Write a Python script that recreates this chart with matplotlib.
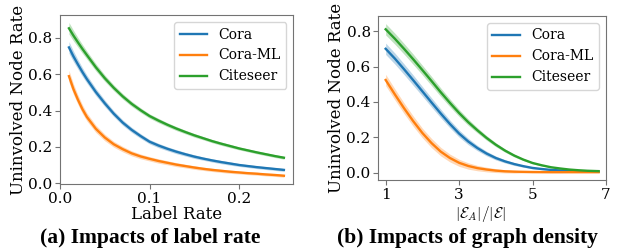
import numpy as np
import matplotlib.pyplot as plt

plt.rcParams.update({'font.family': 'DejaVu Serif', 'font.size': 11,
                     'mathtext.fontset': 'cm'})

names = ['Cora', 'Cora-ML', 'Citeseer']
colors = ['#1f77b4', '#ff7f0e', '#2ca02c']

# (a) label rate
label_rate = [0.01, 0.015, 0.02, 0.025, 0.03, 0.04, 0.05, 0.06, 0.07, 0.08, 0.09,
              0.10, 0.11, 0.12, 0.13, 0.14, 0.15, 0.16, 0.17, 0.18, 0.19,
              0.20, 0.21, 0.22, 0.23, 0.24, 0.25]
cora_a = [0.747, 0.698, 0.654, 0.612, 0.573, 0.502, 0.440, 0.383, 0.334, 0.294, 0.260,
          0.229, 0.208, 0.190, 0.174, 0.160, 0.147, 0.136, 0.126, 0.117, 0.109,
          0.101, 0.095, 0.089, 0.084, 0.079, 0.074]
coraml_a = [0.589, 0.518, 0.460, 0.408, 0.365, 0.300, 0.252, 0.215, 0.188, 0.165, 0.148,
            0.135, 0.123, 0.113, 0.103, 0.095, 0.087, 0.080, 0.074, 0.069, 0.064,
            0.060, 0.056, 0.053, 0.049, 0.046, 0.042]
citeseer_a = [0.852, 0.812, 0.775, 0.739, 0.705, 0.638, 0.578, 0.525, 0.478, 0.437, 0.402,
              0.370, 0.345, 0.322, 0.301, 0.282, 0.264, 0.248, 0.232, 0.218, 0.205,
              0.192, 0.181, 0.170, 0.160, 0.150, 0.141]
std_a = [0.032, 0.029, 0.026, 0.024, 0.022, 0.020, 0.018, 0.016, 0.015, 0.014, 0.013,
         0.012, 0.012, 0.011, 0.011, 0.010, 0.010, 0.009, 0.009, 0.009, 0.009,
         0.008, 0.008, 0.008, 0.008, 0.008, 0.008]

# (b) graph density
density = [1.0, 1.25, 1.5, 1.75, 2.0, 2.25, 2.5, 2.75, 3.0, 3.25, 3.5, 3.75,
           4.0, 4.25, 4.5, 4.75, 5.0, 5.25, 5.5, 5.75, 6.0, 6.25, 6.5, 6.8]
cora_b = [0.700, 0.645, 0.585, 0.523, 0.460, 0.397, 0.335, 0.276, 0.222, 0.177, 0.140, 0.109,
          0.084, 0.065, 0.050, 0.038, 0.028, 0.022, 0.017, 0.014, 0.011, 0.009, 0.008, 0.007]
coraml_b = [0.524, 0.443, 0.365, 0.292, 0.225, 0.168, 0.120, 0.084, 0.057, 0.039, 0.027, 0.019,
            0.013, 0.009, 0.007, 0.006, 0.005, 0.0045, 0.004, 0.004, 0.004, 0.004, 0.004, 0.004]
citeseer_b = [0.810, 0.757, 0.700, 0.641, 0.580, 0.518, 0.455, 0.395, 0.338, 0.286, 0.240, 0.197,
              0.159, 0.126, 0.098, 0.075, 0.056, 0.043, 0.032, 0.025, 0.019, 0.015, 0.012, 0.010]
std_b = [0.032, 0.031, 0.030, 0.029, 0.027, 0.026, 0.024, 0.022, 0.020, 0.018, 0.015, 0.013,
         0.011, 0.009, 0.008, 0.006, 0.005, 0.004, 0.003, 0.003, 0.002, 0.002, 0.002, 0.002]

fig = plt.figure(figsize=(6.21, 2.48), dpi=100)
ax1 = fig.add_axes([0.0966, 0.2569, 0.3757, 0.6826])
ax2 = fig.add_axes([0.6092, 0.2742, 0.3666, 0.6613])


def draw(ax, x, series, std):
    for name, y, c in zip(names, series, colors):
        y = np.array(y)
        s = np.array(std)
        ax.plot(x, y, color=c, lw=1.7, label=name)
        ax.fill_between(x, y - s, y + s, color=c, alpha=0.3, lw=0)
    for sp in ax.spines.values():
        sp.set_color('0.45')
        sp.set_linewidth(0.8)
    ax.tick_params(color='0.45', length=3.5, width=0.8, pad=2)
    ax.set_yticks([0.0, 0.2, 0.4, 0.6, 0.8])
    ax.set_ylabel('Uninvolved Node Rate', fontsize=12, labelpad=1)
    ax.legend(loc='upper right', fontsize=10)


draw(ax1, label_rate, [cora_a, coraml_a, citeseer_a], std_a)
ax1.set_xlim(0, 0.2605)
ax1.set_ylim(-0.005, 0.925)
ax1.set_xticks([0.0, 0.1, 0.2])
ax1.set_xlabel('Label Rate', fontsize=12, labelpad=0)

draw(ax2, density, [cora_b, coraml_b, citeseer_b], std_b)
ax2.set_xlim(0.8, 7.0)
ax2.set_ylim(-0.04, 0.885)
ax2.set_xticks([1, 3, 5, 7])
ax2.set_xlabel(r'$|\mathcal{E}_A|/|\mathcal{E}|$', fontsize=11, labelpad=0)
ax2.xaxis.set_label_coords(0.45, -0.145)

fig.text(0.2415, 0.04, '(a) Impacts of label rate', ha='center', va='center',
         family='Liberation Serif', weight='bold', fontsize=15.5)
fig.text(0.752, 0.04, '(b) Impacts of graph density', ha='center', va='center',
         family='Liberation Serif', weight='bold', fontsize=15.5)

fig.savefig('out.png', dpi=100)
